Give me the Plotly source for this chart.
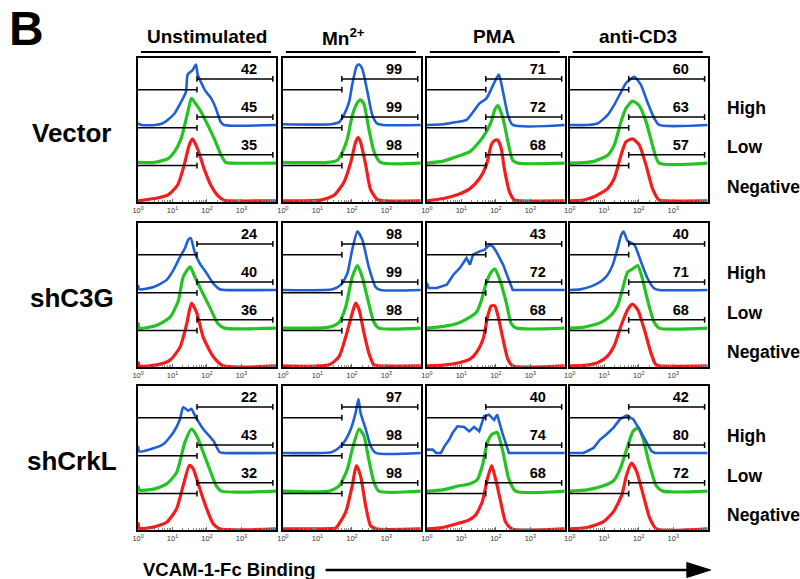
import plotly.graph_objects as go

# ---------------- data ----------------
ROWS = ["Vector", "shC3G", "shCrkL"]
COLS = ["Unstimulated", "Mn<sup>2+</sup>", "PMA", "anti-CD3"]
SERIES = ["Negative", "Low", "High"]
TICK_VALS = [1, 10, 100, 1000]
TICK_TEXT = ["10<sup>0</sup>", "10<sup>1</sup>", "10<sup>2</sup>", "10<sup>3</sup>"]

# percentage of cells in the high gate, per row (Vector, shC3G, shCrkL) and column
PCT_NEG = [[35, 98, 68, 57], [36, 98, 68, 68], [32, 98, 68, 72]]
PCT_LOW = [[45, 99, 72, 63], [40, 99, 72, 71], [43, 98, 74, 80]]
PCT_HIGH = [[42, 99, 71, 60], [24, 98, 43, 40], [22, 97, 40, 42]]

GATE_LOG = 1.71      # gate threshold, log10 units
GATE_END_LOG = 3.91  # right end of the positive gate, log10 units

# histogram outlines: (log10 fluorescence, relative count)
V_UNS_NEG = [(0, 0), (0.48, 0.016), (0.86, 0.04), (1.15, 0.11), (1.34, 0.25), (1.49, 0.39), (1.58, 0.43), (1.73, 0.36), (1.92, 0.22), (2.11, 0.11), (2.30, 0.04), (2.49, 0.005), (2.7, 0), (4, 0)]
V_UNS_LOW = [(0, 0.005), (0.48, 0.005), (0.86, 0.03), (1.06, 0.08), (1.25, 0.17), (1.44, 0.35), (1.55, 0.45), (1.68, 0.41), (1.82, 0.36), (1.97, 0.29), (2.21, 0.17), (2.40, 0.06), (2.54, 0.005), (2.7, 0), (4, 0)]
V_UNS_HIGH = [(0, 0.01), (0.1, 0), (0.5, 0.0), (0.7, 0.01), (0.86, 0.035), (1.06, 0.08), (1.25, 0.16), (1.39, 0.23), (1.44, 0.35), (1.58, 0.38), (1.68, 0.42), (1.73, 0.35), (1.82, 0.30), (1.97, 0.23), (2.11, 0.19), (2.25, 0.12), (2.40, 0.02), (2.49, 0), (4, 0)]
V_MN_NEG = [(0, 0), (1.10, 0.005), (1.49, 0.04), (1.77, 0.13), (1.97, 0.27), (2.11, 0.41), (2.18, 0.44), (2.25, 0.41), (2.40, 0.25), (2.54, 0.08), (2.73, 0.01), (2.9, 0), (4, 0)]
V_MN_LOW = [(0, 0.005), (1.29, 0.005), (1.58, 0.02), (1.73, 0.08), (1.87, 0.17), (2.01, 0.33), (2.16, 0.42), (2.25, 0.44), (2.35, 0.41), (2.49, 0.24), (2.64, 0.08), (2.83, 0.005), (4, 0)]
V_MN_HIGH = [(0, 0.005), (1.39, 0.005), (1.63, 0.02), (1.77, 0.07), (1.92, 0.16), (2.01, 0.28), (2.14, 0.41), (2.21, 0.42), (2.30, 0.39), (2.45, 0.23), (2.59, 0.07), (2.73, 0.01), (2.9, 0), (4, 0)]
V_PMA_NEG = [(0, 0), (0.48, 0.016), (0.86, 0.04), (1.25, 0.085), (1.53, 0.155), (1.73, 0.25), (1.87, 0.39), (1.97, 0.42), (2.06, 0.42), (2.16, 0.36), (2.25, 0.22), (2.40, 0.06), (2.54, 0.005), (2.7, 0), (4, 0)]
V_PMA_LOW = [(0, 0), (0.48, 0.014), (0.86, 0.044), (1.25, 0.08), (1.53, 0.15), (1.73, 0.22), (1.87, 0.29), (1.97, 0.37), (2.06, 0.40), (2.21, 0.31), (2.35, 0.15), (2.49, 0.02), (2.64, 0), (4, 0)]
V_PMA_HIGH = [(0, 0), (0.48, 0.005), (0.86, 0.02), (1.15, 0.035), (1.34, 0.09), (1.53, 0.15), (1.73, 0.185), (1.87, 0.25), (2.01, 0.32), (2.09, 0.35), (2.21, 0.23), (2.35, 0.07), (2.49, 0), (4, 0)]
V_CD3_NEG = [(0, 0), (0.4, 0.005), (0.72, 0.03), (1.10, 0.085), (1.29, 0.155), (1.49, 0.32), (1.63, 0.41), (1.82, 0.43), (2.01, 0.39), (2.21, 0.25), (2.40, 0.085), (2.59, 0.005), (2.75, 0), (4, 0)]
V_CD3_LOW = [(0, 0), (0.4, 0.003), (0.72, 0.014), (1.10, 0.055), (1.29, 0.125), (1.49, 0.29), (1.63, 0.38), (1.82, 0.43), (2.01, 0.40), (2.21, 0.29), (2.45, 0.08), (2.59, 0), (4, 0)]
V_CD3_HIGH = [(0, 0), (0.53, 0), (0.82, 0.012), (1.10, 0.07), (1.29, 0.14), (1.49, 0.23), (1.63, 0.29), (1.77, 0.32), (1.87, 0.335), (2.06, 0.28), (2.25, 0.16), (2.45, 0.046), (2.59, 0), (4, 0)]

C_UNS_NEG = [(0, 0.03), (0.04, 0), (0.55, 0.007), (0.93, 0.04), (1.22, 0.13), (1.41, 0.29), (1.55, 0.435), (1.70, 0.37), (1.89, 0.20), (2.18, 0.065), (2.47, 0), (4, 0)]
C_UNS_LOW = [(0, 0.04), (0.04, 0), (0.55, 0.02), (0.93, 0.076), (1.17, 0.19), (1.31, 0.355), (1.51, 0.425), (1.65, 0.355), (1.84, 0.26), (2.08, 0.146), (2.32, 0.03), (2.51, 0), (4, 0)]
C_UNS_HIGH = [(0, 0.035), (0.04, 0.005), (0.45, 0.02), (0.83, 0.07), (1.03, 0.14), (1.22, 0.23), (1.36, 0.29), (1.46, 0.35), (1.53, 0.36), (1.65, 0.255), (1.79, 0.185), (1.99, 0.116), (2.18, 0.046), (2.37, 0.005), (2.5, 0), (4, 0)]
C_MN_NEG = [(0, 0), (1.34, 0.007), (1.63, 0.065), (1.82, 0.20), (2.01, 0.365), (2.11, 0.435), (2.21, 0.39), (2.35, 0.23), (2.49, 0.09), (2.64, 0.007), (2.8, 0), (4, 0)]
C_MN_LOW = [(0, 0), (1.34, 0.007), (1.63, 0.04), (1.82, 0.146), (2.01, 0.355), (2.16, 0.435), (2.30, 0.355), (2.49, 0.17), (2.64, 0.04), (2.78, 0), (4, 0)]
C_MN_HIGH = [(0, 0), (1.44, 0.005), (1.68, 0.035), (1.87, 0.116), (2.01, 0.28), (2.16, 0.405), (2.30, 0.35), (2.49, 0.16), (2.69, 0.02), (2.83, 0), (4, 0)]
C_PMA_NEG = [(0, 0), (0.48, 0.005), (0.96, 0.023), (1.25, 0.046), (1.44, 0.093), (1.63, 0.185), (1.77, 0.35), (1.87, 0.417), (1.97, 0.417), (2.06, 0.35), (2.21, 0.185), (2.35, 0.046), (2.49, 0), (4, 0)]
C_PMA_LOW = [(0, 0), (0.48, 0.012), (0.86, 0.03), (1.25, 0.076), (1.44, 0.11), (1.58, 0.19), (1.73, 0.32), (1.87, 0.39), (1.97, 0.41), (2.11, 0.34), (2.30, 0.18), (2.45, 0.03), (2.59, 0), (4, 0)]
C_PMA_HIGH = [(0, 0.05), (0.05, 0.014), (0.29, 0.014), (0.58, 0.037), (0.77, 0.106), (0.96, 0.153), (1.15, 0.222), (1.25, 0.176), (1.34, 0.245), (1.53, 0.268), (1.68, 0.28), (1.82, 0.315), (1.92, 0.30), (2.01, 0.268), (2.21, 0.176), (2.40, 0.06), (2.49, 0), (4, 0)]
C_CD3_NEG = [(0, 0), (0.5, 0.005), (0.82, 0.023), (1.10, 0.07), (1.29, 0.14), (1.49, 0.28), (1.68, 0.39), (1.82, 0.428), (1.97, 0.39), (2.16, 0.255), (2.35, 0.093), (2.49, 0.01), (2.6, 0), (4, 0)]
C_CD3_LOW = [(0, 0), (0.43, 0.007), (0.91, 0.04), (1.20, 0.09), (1.39, 0.157), (1.53, 0.27), (1.68, 0.39), (1.82, 0.41), (1.97, 0.435), (2.11, 0.34), (2.25, 0.20), (2.45, 0.04), (2.59, 0), (4, 0)]
C_CD3_HIGH = [(0, 0), (0.3, 0.004), (0.62, 0.025), (0.91, 0.06), (1.10, 0.106), (1.25, 0.176), (1.39, 0.29), (1.49, 0.38), (1.56, 0.405), (1.68, 0.34), (1.87, 0.315), (2.06, 0.20), (2.25, 0.083), (2.45, 0.01), (2.6, 0), (4, 0)]

K_UNS_NEG = [(0, 0.045), (0.04, 0.005), (0.45, 0.012), (0.83, 0.046), (1.12, 0.14), (1.31, 0.30), (1.49, 0.44), (1.60, 0.417), (1.79, 0.28), (1.99, 0.14), (2.18, 0.035), (2.37, 0), (4, 0)]
K_UNS_LOW = [(0, 0.037), (0.04, 0.007), (0.45, 0.014), (0.83, 0.05), (1.12, 0.13), (1.36, 0.34), (1.55, 0.43), (1.70, 0.384), (1.89, 0.27), (2.08, 0.15), (2.27, 0.037), (2.42, 0), (4, 0)]
K_UNS_HIGH = [(0, 0.05), (0.04, 0.01), (0.45, 0.032), (0.74, 0.062), (1.03, 0.144), (1.22, 0.236), (1.31, 0.317), (1.46, 0.294), (1.55, 0.306), (1.65, 0.26), (1.89, 0.167), (2.18, 0.086), (2.37, 0.005), (2.5, 0), (4, 0)]
K_MN_NEG = [(0, 0), (1.4, 0.002), (1.53, 0.005), (1.82, 0.116), (2.01, 0.30), (2.13, 0.44), (2.25, 0.37), (2.40, 0.16), (2.54, 0.023), (2.69, 0), (4, 0)]
K_MN_LOW = [(0, 0), (1.34, 0), (1.63, 0.037), (1.87, 0.153), (2.01, 0.29), (2.21, 0.43), (2.35, 0.384), (2.49, 0.22), (2.64, 0.06), (2.78, 0), (4, 0)]
K_MN_HIGH = [(0, 0), (1.4, 0.005), (1.58, 0.028), (1.77, 0.074), (1.97, 0.167), (2.11, 0.28), (2.19, 0.375), (2.25, 0.28), (2.40, 0.167), (2.54, 0.05), (2.69, 0), (4, 0)]
K_PMA_NEG = [(0, 0), (0.46, 0.009), (0.94, 0.04), (1.23, 0.062), (1.42, 0.097), (1.61, 0.19), (1.76, 0.35), (1.88, 0.44), (1.99, 0.35), (2.14, 0.19), (2.28, 0.05), (2.47, 0), (4, 0)]
K_PMA_LOW = [(0, 0), (0.46, 0.009), (0.94, 0.037), (1.23, 0.049), (1.47, 0.083), (1.61, 0.176), (1.76, 0.34), (1.90, 0.396), (2.04, 0.407), (2.19, 0.29), (2.38, 0.083), (2.57, 0), (4, 0)]
K_PMA_HIGH = [(0, 0.023), (0.17, 0.023), (0.27, 0), (0.41, 0), (0.51, 0.046), (0.65, 0.093), (0.75, 0.14), (0.89, 0.185), (1.08, 0.18), (1.23, 0.15), (1.37, 0.18), (1.52, 0.15), (1.66, 0.255), (1.80, 0.266), (1.95, 0.23), (2.04, 0.266), (2.19, 0.14), (2.38, 0), (4, 0)]
K_CD3_NEG = [(0, 0), (0.5, 0.009), (0.98, 0.05), (1.27, 0.12), (1.51, 0.236), (1.65, 0.375), (1.79, 0.456), (1.94, 0.398), (2.13, 0.236), (2.32, 0.074), (2.51, 0), (4, 0)]
K_CD3_LOW = [(0, 0), (0.5, 0.009), (0.98, 0.037), (1.27, 0.072), (1.46, 0.153), (1.65, 0.29), (1.84, 0.417), (1.99, 0.44), (2.13, 0.36), (2.32, 0.176), (2.51, 0.037), (2.70, 0), (4, 0)]
K_CD3_HIGH = [(0, 0), (0.4, 0), (0.5, 0.012), (0.69, 0.035), (0.88, 0.093), (1.07, 0.13), (1.27, 0.176), (1.46, 0.235), (1.65, 0.26), (1.84, 0.235), (1.99, 0.176), (2.18, 0.093), (2.37, 0.012), (2.47, 0), (4, 0)]

CURVES = [
    [(V_UNS_NEG, V_UNS_LOW, V_UNS_HIGH), (V_MN_NEG, V_MN_LOW, V_MN_HIGH), (V_PMA_NEG, V_PMA_LOW, V_PMA_HIGH), (V_CD3_NEG, V_CD3_LOW, V_CD3_HIGH)],
    [(C_UNS_NEG, C_UNS_LOW, C_UNS_HIGH), (C_MN_NEG, C_MN_LOW, C_MN_HIGH), (C_PMA_NEG, C_PMA_LOW, C_PMA_HIGH), (C_CD3_NEG, C_CD3_LOW, C_CD3_HIGH)],
    [(K_UNS_NEG, K_UNS_LOW, K_UNS_HIGH), (K_MN_NEG, K_MN_LOW, K_MN_HIGH), (K_PMA_NEG, K_PMA_LOW, K_PMA_HIGH), (K_CD3_NEG, K_CD3_LOW, K_CD3_HIGH)],
]
PCTS = [PCT_NEG, PCT_LOW, PCT_HIGH]
JAGGED = {(1, 2, 2), (2, 2, 2), (2, 3, 2)}

# ---------------- layout / style ----------------
W, H = 800, 579
COL_X0 = [133, 279, 424, 568]
HEADER_CX = [203, 340, 492, 637]
ROW_Y0 = [58, 223, 386]
PW, PH = 139, 144
BASES = [0.008, 0.27, 0.535]          # vertical offsets of the stacked histograms
COLORS = ["#f51c1c", "#22c322", "#1f5fd6"]
WIDTHS = [3.2, 3.2, 2.6]
FONT = "Liberation Sans, Arial, sans-serif"


def px(x):
    return x / W


def py(y):
    return 1 - y / H


fig = go.Figure()
annotations = []
shapes = []

for r in range(3):
    for c in range(4):
        k = r * 4 + c + 1
        xa = "x" if k == 1 else f"x{k}"
        ya = "y" if k == 1 else f"y{k}"
        for s in range(3):
            pts = CURVES[r][c][s]
            base = BASES[s]
            shape = "linear" if (r, c, s) in JAGGED else "spline"
            fig.add_trace(go.Scatter(
                x=[10 ** p[0] for p in pts], y=[base + p[1] for p in pts],
                mode="lines", line=dict(color=COLORS[s], width=WIDTHS[s], shape=shape, smoothing=0.6),
                xaxis=xa, yaxis=ya, hoverinfo="skip", showlegend=False))
        # gates
        gx, gy = [], []
        g0, g1 = 10 ** GATE_LOG, 10 ** GATE_END_LOG
        tk = 0.02
        for s in range(3):
            b = BASES[s]
            yl, yr = b + 0.245, b + 0.32
            gx += [1, g0, None, g0, g0, None]
            gy += [yl, yl, None, yl - tk, yl + tk, None]
            gx += [g0, g1, None, g0, g0, None, g1, g1, None]
            gy += [yr, yr, None, yr - tk, yr + tk, None, yr - tk, yr + tk, None]
        fig.add_trace(go.Scatter(x=gx, y=gy, mode="lines", line=dict(color="black", width=1.5),
                                 xaxis=xa, yaxis=ya, hoverinfo="skip", showlegend=False))
        fig.add_trace(go.Scatter(
            x=[10 ** 3.22] * 3, y=[BASES[s] + 0.38 for s in range(3)],
            text=[f"<b>{PCTS[s][r][c]}</b>" for s in range(3)], mode="text",
            textfont=dict(family=FONT, size=14.5, color="black"),
            xaxis=xa, yaxis=ya, hoverinfo="skip", showlegend=False))

        x0, y0 = COL_X0[c], ROW_Y0[r]
        fig.update_layout(**{
            ("xaxis" if k == 1 else f"xaxis{k}"): dict(
                type="log", range=[0, 4], domain=[px(x0), px(x0 + PW)], anchor=ya,
                tickvals=TICK_VALS, ticktext=TICK_TEXT, ticks="inside", ticklen=3,
                tickcolor="#666", tickwidth=0.8,
                minor=dict(ticks="inside", ticklen=2, tickcolor="#888", tickwidth=0.6, dtick="D1"),
                tickfont=dict(family=FONT, size=7.5, color="#333"),
                showline=True, linecolor="black", linewidth=1.6, mirror=True,
                showgrid=False, zeroline=False, fixedrange=True),
            ("yaxis" if k == 1 else f"yaxis{k}"): dict(
                range=[0, 1], domain=[py(y0 + PH), py(y0)], anchor=xa,
                showticklabels=False, ticks="", showline=True, linecolor="black",
                linewidth=1.6, mirror=True, showgrid=False, zeroline=False, fixedrange=True),
        })

# column headers and underlines
for c, name in enumerate(COLS):
    annotations.append(dict(x=px(HEADER_CX[c]), y=py(37), xref="paper", yref="paper", text=f"<b>{name}</b>",
                            showarrow=False, xanchor="center", yanchor="middle",
                            font=dict(family=FONT, size=19, color="black")))
    shapes.append(dict(type="line", xref="paper", yref="paper", x0=px(COL_X0[c] + 3), x1=px(COL_X0[c] + 134),
                       y0=py(52), y1=py(52), line=dict(color="black", width=2)))

# row labels and right-side series labels
for r, name in enumerate(ROWS):
    annotations.append(dict(x=px(67), y=py(ROW_Y0[r] + PH / 2 + 3), xref="paper", yref="paper",
                            text=f"<b>{name}</b>", showarrow=False, xanchor="center", yanchor="middle",
                            font=dict(family=FONT, size=26, color="black")))
    for s, lab in enumerate(["High", "Low", "Negative"]):
        annotations.append(dict(x=px(724), y=py(ROW_Y0[r] + 50 + 39.5 * s), xref="paper", yref="paper",
                                text=f"<b>{lab}</b>", showarrow=False, xanchor="left", yanchor="middle",
                                font=dict(family=FONT, size=17.5, color="black")))

annotations.append(dict(x=px(1), y=py(28), xref="paper", yref="paper", text="<b>B</b>", showarrow=False,
                        xanchor="left", yanchor="middle", font=dict(family=FONT, size=48, color="black")))
annotations.append(dict(x=px(136), y=py(569), xref="paper", yref="paper", text="<b>VCAM-1-Fc Binding</b>",
                        showarrow=False, xanchor="left", yanchor="middle",
                        font=dict(family=FONT, size=18.5, color="black")))
shapes.append(dict(type="line", xref="paper", yref="paper", x0=px(322), x1=px(690), y0=py(570), y1=py(570),
                   line=dict(color="black", width=2.5)))
shapes.append(dict(type="path", xref="paper", yref="paper",
                   path=f"M {px(686)},{py(562.5)} L {px(710)},{py(570)} L {px(686)},{py(577.5)} Z",
                   fillcolor="black", line=dict(color="black", width=1)))

fig.update_layout(width=W, height=H, margin=dict(l=0, r=0, t=0, b=0), autosize=False,
                  paper_bgcolor="white", plot_bgcolor="white",
                  annotations=annotations, shapes=shapes, showlegend=False)

fig.write_html("out.html", config={"displayModeBar": False},
               post_script="document.body.style.margin='0';document.body.style.padding='0';")
